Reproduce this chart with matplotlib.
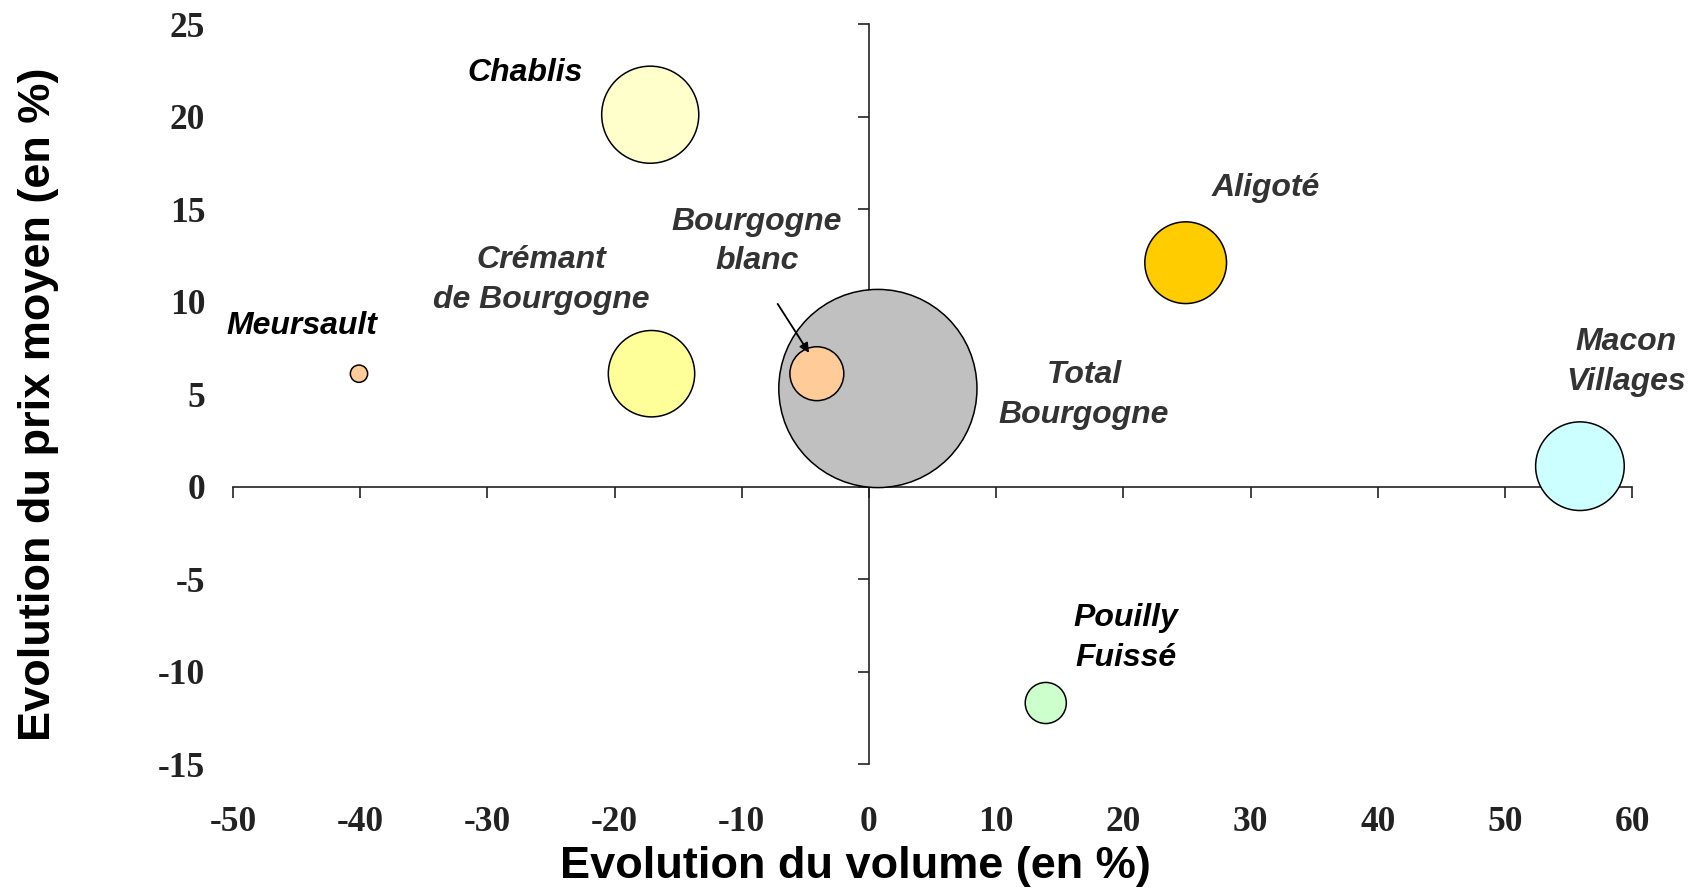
import matplotlib
matplotlib.use("Agg")
import matplotlib.pyplot as plt
import numpy as np

# ---- data ----
names = ["Chablis", "Crémant\nde Bourgogne", "Meursault", "Bourgogne\nblanc",
         "Total\nBourgogne", "Aligoté", "Macon\nVillages", "Pouilly\nFuissé"]
volume_change = [-17.2, -17.1, -40.1, -4.1, 0.7, 24.9, 55.9, 13.9]
price_change = [20.1, 6.1, 6.1, 6.1, 5.3, 12.1, 1.1, -11.7]
bubble_size = [24.0, 19.0, 0.76, 7.4, 100.0, 17.0, 20.0, 4.3]
colors = ["#FFFFCC", "#FFFF99", "#FFCC99", "#FFCC99", "#C0C0C0", "#FFCC00", "#CCFFFF", "#CCFFCC"]

# label positions (data coords) and colours
label_x = [-27.0, -25.8, -44.6, -8.8, 16.9, 31.2, 59.5, 20.2]
label_y = [22.35, 11.15, 8.7, 13.25, 4.95, 16.15, 6.75, -8.2]
label_colors = ["#000000", "#333333", "#000000", "#333333", "#333333", "#333333", "#333333", "#000000"]

xticks = list(range(-50, 61, 10))
yticks = list(range(-15, 26, 5))

xlabel = "Evolution du volume (en %)"
ylabel = "Evolution du prix moyen (en %)"

# ---- figure ----
fig = plt.figure(figsize=(16.89, 8.91), dpi=100)
pos = [0.138, 0.1425, 0.9663 - 0.138, 0.973 - 0.1425]

# axis lines through the origin (drawn underneath the bubbles)
ax2 = fig.add_axes(pos)
ax2.set_zorder(0)
ax = fig.add_axes(pos, sharex=ax2, sharey=ax2)
ax.set_zorder(1)
ax.patch.set_visible(False)

ax2.set_xlim(-50, 60)
ax2.set_ylim(-15, 25)
for s in ["top", "right"]:
    ax2.spines[s].set_visible(False)
ax2.spines["left"].set_position(("data", 0))
ax2.spines["bottom"].set_position(("data", 0))
for s in ["left", "bottom"]:
    ax2.spines[s].set_color("#222222")
    ax2.spines[s].set_linewidth(1.2)
ax2.set_xticks(xticks)
ax2.set_yticks(yticks)
ax2.tick_params(axis="both", direction="out", length=8, width=1.2, color="#222222",
                labelleft=False, labelbottom=False)

# tick labels at the frame edges
for s in ax.spines.values():
    s.set_visible(False)
ax.tick_params(axis="both", length=0)
ax.tick_params(axis="y", pad=20)
ax.tick_params(axis="x", pad=30)
ax.set_xticks(xticks)
ax.set_yticks(yticks)
ax.set_xticklabels([str(v) for v in xticks])
ax.set_yticklabels([str(v) for v in yticks])
for lab in ax.get_xticklabels() + ax.get_yticklabels():
    lab.set_fontfamily("Liberation Serif")
    lab.set_fontweight("bold")
    lab.set_fontsize(25.5)
    lab.set_color("#222222")

# bubbles: largest drawn first so small ones stay visible
order = np.argsort(bubble_size)[::-1]
scale = 203.6
ax.scatter([volume_change[i] for i in order], [price_change[i] for i in order],
           s=[scale * bubble_size[i] for i in order], c=[colors[i] for i in order],
           edgecolors="black", linewidths=1.1, zorder=3, clip_on=False)

# labels
for n, lx, ly, lc in zip(names, label_x, label_y, label_colors):
    ax.text(lx, ly, n, ha="center", va="center", fontsize=23, fontweight="bold",
            fontstyle="italic", family="Liberation Sans", color=lc, linespacing=1.42,
            zorder=4)

# arrow for Bourgogne blanc
ax.annotate("", xy=(-4.6, 7.1), xytext=(-7.3, 10.0),
            arrowprops=dict(arrowstyle="-|>", color="black", lw=1.3, mutation_scale=14),
            zorder=5)

ax.set_xlabel(xlabel, fontsize=32.5, fontweight="bold", family="Liberation Sans",
              va="center")
ax.set_ylabel(ylabel, fontsize=32.5, fontweight="bold", family="Liberation Sans",
              va="center")
ax.xaxis.set_label_coords(0.4446, -0.139)
ax.yaxis.set_label_coords(-0.1394, 0.4865)

fig.savefig("out.png", dpi=100)
